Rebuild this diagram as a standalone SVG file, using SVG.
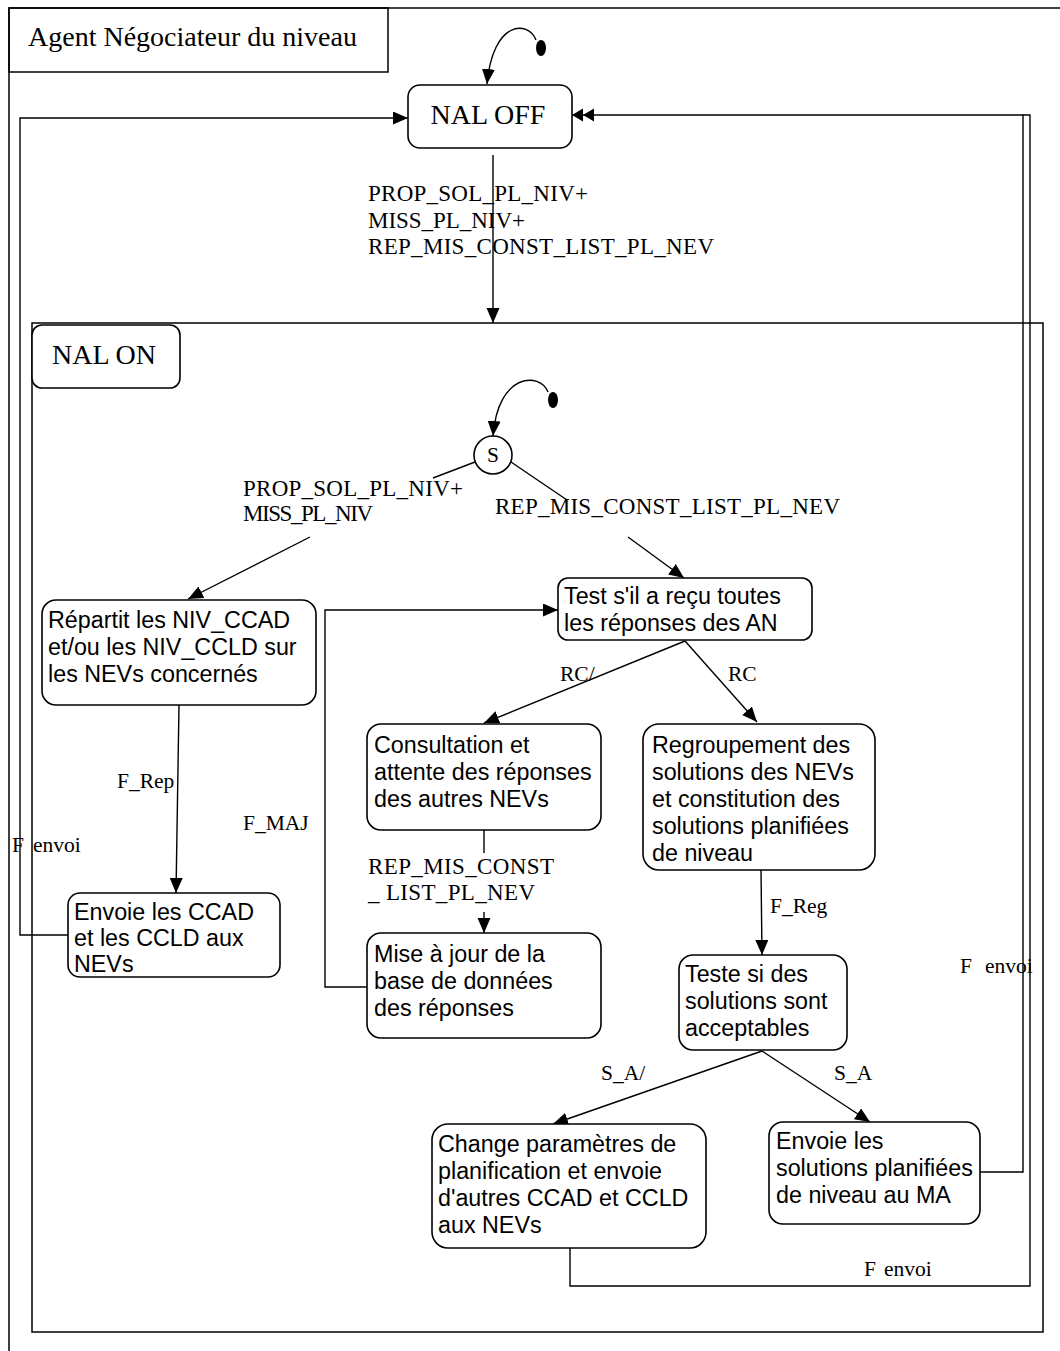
<svg xmlns="http://www.w3.org/2000/svg" width="1060" height="1351" viewBox="0 0 1060 1351">
<style>
.frame{fill:none;stroke:#000;stroke-width:1.5}
.box{fill:#fff;stroke:#000;stroke-width:1.6}
.ln{fill:none;stroke:#000;stroke-width:1.4}
.st{font-family:"Liberation Sans",Arial,sans-serif;font-size:23.3px;fill:#000}
.lb{font-family:"Liberation Serif","Times New Roman",serif;font-size:21.5px;fill:#000}
.lg{font-family:"Liberation Serif","Times New Roman",serif;font-size:23px;fill:#000}
.big{font-family:"Liberation Serif","Times New Roman",serif;font-size:28px;fill:#000}
</style>
<defs>
<marker id="arr" markerUnits="userSpaceOnUse" markerWidth="16" markerHeight="14" refX="15" refY="6.5" orient="auto">
<path d="M0,0 L15,6.5 L0,13 z" fill="#000"/>
</marker>
<marker id="arr2" markerUnits="userSpaceOnUse" markerWidth="24" markerHeight="14" refX="22" refY="6.5" orient="auto">
<path d="M0,0 L11,6.5 L0,13 z M11,0 L22,6.5 L11,13 z" fill="#000"/>
</marker>
</defs>
<rect width="1060" height="1351" fill="#fff"/>

<g id="frames">
<path class="frame" d="M9,1351 V8 H1060"/>
<rect class="frame" x="9" y="8" width="379" height="64"/>
<text class="big" x="28" y="46">Agent Négociateur du niveau</text>
<rect class="frame" x="32" y="323" width="1011" height="1009"/>
</g>

<g id="connectors">
<ellipse cx="541" cy="48" rx="5" ry="8" fill="#000"/>
<path class="ln" d="M536,40 C528,20 493,20 487,84" marker-end="url(#arr)"/>
<path class="ln" d="M70,935 H20 V118 H408" marker-end="url(#arr)"/>
<path class="ln" d="M980,1172 H1023 V115 H572" marker-end="url(#arr2)"/>
<path class="ln" d="M570,1248 V1286 H1030 V115 H1023"/>
<path class="ln" d="M493,155 V323" marker-end="url(#arr)"/>
<ellipse cx="553" cy="400" rx="5" ry="8" fill="#000"/>
<path class="ln" d="M548,392 C540,372 498,372 493,436" marker-end="url(#arr)"/>
<path class="ln" d="M475,462 L433,478"/>
<path class="ln" d="M310,537 L188,599" marker-end="url(#arr)"/>
<path class="ln" d="M511,462 L567,500"/>
<path class="ln" d="M628,537 L684,578" marker-end="url(#arr)"/>
<path class="ln" d="M179,705 L176,893" marker-end="url(#arr)"/>
<path class="ln" d="M367,987 H325 V610 H558" marker-end="url(#arr)"/>
<path class="ln" d="M685,641 L484,723" marker-end="url(#arr)"/>
<path class="ln" d="M685,641 L757,722" marker-end="url(#arr)"/>
<path class="ln" d="M484,830 V853"/>
<path class="ln" d="M484,912 V933" marker-end="url(#arr)"/>
<path class="ln" d="M761,870 L762,955" marker-end="url(#arr)"/>
<path class="ln" d="M762,1051 L553,1124" marker-end="url(#arr)"/>
<path class="ln" d="M762,1051 L870,1122" marker-end="url(#arr)"/>

<text class="lg" x="368" y="201" textLength="220" lengthAdjust="spacing">PROP_SOL_PL_NIV+</text>
<text class="lg" x="368" y="228" textLength="157" lengthAdjust="spacing">MISS_PL_NIV+</text>
<text class="lg" x="368" y="254" textLength="346" lengthAdjust="spacing">REP_MIS_CONST_LIST_PL_NEV</text>
<text class="lg" x="243" y="496" textLength="220" lengthAdjust="spacing">PROP_SOL_PL_NIV+</text>
<text class="lg" x="243" y="521" textLength="130" lengthAdjust="spacing">MISS_PL_NIV</text>
<text class="lg" x="495" y="514" textLength="345" lengthAdjust="spacing">REP_MIS_CONST_LIST_PL_NEV</text>
<text class="lb" x="117" y="788">F_Rep</text>
<text class="lb" x="243" y="830">F_MAJ</text>
<text class="lb" x="12" y="852">F<tspan x="33">envoi</tspan></text>
<text class="lb" x="560" y="681">RC/</text>
<text class="lb" x="728" y="681">RC</text>
<text class="lg" x="368" y="874" textLength="186" lengthAdjust="spacing">REP_MIS_CONST</text>
<text class="lg" x="368" y="900" textLength="167" lengthAdjust="spacing">_ LIST_PL_NEV</text>
<text class="lb" x="770" y="913">F_Reg</text>
<text class="lb" x="960" y="973">F<tspan x="985">envoi</tspan></text>
<text class="lb" x="601" y="1080">S_A/</text>
<text class="lb" x="834" y="1080">S_A</text>
<text class="lb" x="864" y="1276">F<tspan x="884">envoi</tspan></text>
</g>

<g id="nal_off">
<rect class="box" x="408" y="85" width="164" height="63" rx="12"/>
<text class="big" x="488" y="124" text-anchor="middle">NAL OFF</text>
</g>

<g id="nal_on">
<rect class="box" x="32" y="325" width="148" height="63" rx="10"/>
<text class="big" x="52" y="364">NAL ON</text>
</g>

<g id="s_node">
<circle class="box" cx="493" cy="455" r="19"/>
<text class="lb" x="493" y="462" text-anchor="middle">S</text>
</g>

<g id="repartit">
<rect class="box" x="42" y="600" width="274" height="105" rx="14"/>
<text class="st" x="48" y="628">Répartit les NIV_CCAD</text>
<text class="st" x="48" y="655">et/ou les NIV_CCLD sur</text>
<text class="st" x="48" y="682">les NEVs concernés</text>
</g>

<g id="envoie_ccad">
<rect class="box" x="68" y="893" width="212" height="84" rx="12"/>
<text class="st" x="74" y="920">Envoie les CCAD</text>
<text class="st" x="74" y="946">et les CCLD aux</text>
<text class="st" x="74" y="972">NEVs</text>
</g>

<g id="test_recu">
<rect class="box" x="558" y="578" width="254" height="62" rx="10"/>
<text class="st" x="564" y="604">Test s'il a reçu toutes</text>
<text class="st" x="564" y="631">les réponses des AN</text>
</g>

<g id="consultation">
<rect class="box" x="367" y="724" width="234" height="106" rx="14"/>
<text class="st" x="374" y="753">Consultation et</text>
<text class="st" x="374" y="780">attente des réponses</text>
<text class="st" x="374" y="807">des autres NEVs</text>
</g>

<g id="regroupement">
<rect class="box" x="643" y="724" width="232" height="146" rx="16"/>
<text class="st" x="652" y="753">Regroupement des</text>
<text class="st" x="652" y="780">solutions des NEVs</text>
<text class="st" x="652" y="807">et constitution des</text>
<text class="st" x="652" y="834">solutions planifiées</text>
<text class="st" x="652" y="861">de niveau</text>
</g>

<g id="mise_a_jour">
<rect class="box" x="367" y="933" width="234" height="105" rx="14"/>
<text class="st" x="374" y="962">Mise à jour de la</text>
<text class="st" x="374" y="989">base de données</text>
<text class="st" x="374" y="1016">des réponses</text>
</g>

<g id="teste_solutions">
<rect class="box" x="679" y="955" width="168" height="95" rx="14"/>
<text class="st" x="685" y="982">Teste si des</text>
<text class="st" x="685" y="1009">solutions sont</text>
<text class="st" x="685" y="1036">acceptables</text>
</g>

<g id="change_parametres">
<rect class="box" x="432" y="1124" width="274" height="124" rx="16"/>
<text class="st" x="438" y="1152">Change paramètres de</text>
<text class="st" x="438" y="1179">planification et envoie</text>
<text class="st" x="438" y="1206">d'autres CCAD et CCLD</text>
<text class="st" x="438" y="1233">aux NEVs</text>
</g>

<g id="envoie_ma">
<rect class="box" x="769" y="1122" width="211" height="102" rx="14"/>
<text class="st" x="776" y="1149">Envoie les</text>
<text class="st" x="776" y="1176">solutions planifiées</text>
<text class="st" x="776" y="1203">de niveau au MA</text>
</g>
</svg>
